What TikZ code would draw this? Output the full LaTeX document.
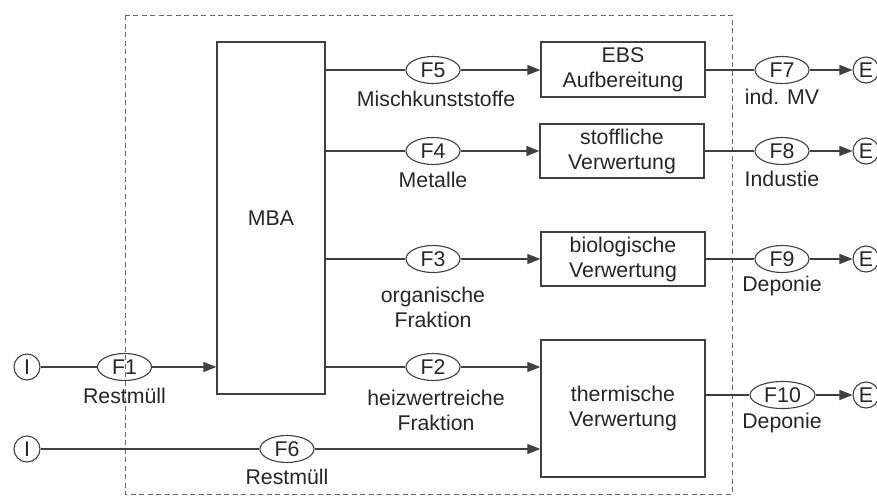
\documentclass[tikz,border=0pt]{standalone}
\usepackage{fontspec}
\setmainfont{Liberation Sans}
\usetikzlibrary{shapes.geometric,arrows.meta}
\begin{document}
\begin{tikzpicture}[x=1pt,y=-1pt,
  every node/.style={font=\fontsize{21.3}{25}\selectfont, text=black!85},
  ln/.style={draw=black!75, line width=1.3pt},
  arr/.style={ln, -{Triangle[length=13pt,width=10pt]}},
  flow/.style={ellipse, draw=black!75, line width=1.1pt, minimum width=54pt, minimum height=27pt, inner sep=0pt},
  proc/.style={draw=black!75, line width=1.3pt, align=center, inner sep=0pt},
  term/.style={circle, draw=black!75, line width=1.1pt, minimum size=26pt, inner sep=0pt},
  lab/.style={align=center, inner sep=0pt}]
\useasboundingbox (0,0) rectangle (877,498);
% system boundary
\draw[black!60, line width=1pt, dash pattern=on 5pt off 3.5pt] (125,15) rectangle (732,494);
% process boxes
\node[proc, minimum width=108pt, minimum height=352pt] (mba) at (271,218) {MBA};
\node[proc, minimum width=164pt, minimum height=55pt] (ebs) at (623,69.5) {EBS\\Aufbereitung};
\node[proc, minimum width=164pt, minimum height=54pt] (sto) at (622,151) {stoffliche\\Verwertung};
\node[proc, minimum width=164pt, minimum height=54pt] (bio) at (623,259) {biologische\\Verwertung};
\node[proc, minimum width=164pt, minimum height=137pt] (the) at (623,408.5) {thermische\\Verwertung};
% flow ellipses
\node[flow] (f5) at (433,70) {F5};
\node[flow] (f4) at (433,151) {F4};
\node[flow] (f3) at (433,259) {F3};
\node[flow] (f2) at (433,367) {F2};
\node[flow] (f1) at (124.5,367) {F1};
\node[flow] (f6) at (287,449) {F6};
\node[flow] (f7) at (782,70) {F7};
\node[flow] (f8) at (782,151) {F8};
\node[flow] (f9) at (782,259) {F9};
\node[flow, minimum width=65pt] (f10) at (782.5,395) {F10};
% terminals
\node[term] (i1) at (27,367) {I};
\node[term] (i2) at (27,449) {I};
\node[term] (e1) at (866,70) {E};
\node[term] (e2) at (866,151) {E};
\node[term] (e3) at (866,259) {E};
\node[term] (e4) at (866,395) {E};
% labels
\node[lab] (l5) at (436,99) {Mischkunststoffe};
\node[lab] (l4) at (433,180) {Metalle};
\node[lab] (l3) at (433,307.5) {organische\\Fraktion};
\node[lab] (l2) at (436,410) {heizwertreiche\\Fraktion};
\node[lab] (l1) at (124.5,396) {Restmüll};
\node[lab] (l6) at (287,477) {Restmüll};
\node[lab] (l7) at (782,97) {ind. MV};
\node[lab] (l8) at (782,179) {Industie};
\node[lab] (l9) at (782,286) {Deponie};
\node[lab] (l10) at (782,423) {Deponie};
% connectors
\draw[ln] (i1) -- (f1);
\draw[arr] (f1) -- (f1 -| mba.west);
\draw[ln] (i2) -- (f6);
\draw[arr] (f6) -- (f6 -| the.west);
\draw[ln] (f5 -| mba.east) -- (f5);
\draw[arr] (f5) -- (f5 -| ebs.west);
\draw[ln] (f4 -| mba.east) -- (f4);
\draw[arr] (f4) -- (f4 -| sto.west);
\draw[ln] (f3 -| mba.east) -- (f3);
\draw[arr] (f3) -- (f3 -| bio.west);
\draw[ln] (f2 -| mba.east) -- (f2);
\draw[arr] (f2) -- (f2 -| the.west);
\draw[ln] (f7 -| ebs.east) -- (f7);
\draw[arr] (f7) -- (e1);
\draw[ln] (f8 -| sto.east) -- (f8);
\draw[arr] (f8) -- (e2);
\draw[ln] (f9 -| bio.east) -- (f9);
\draw[arr] (f9) -- (e3);
\draw[ln] (f10 -| the.east) -- (f10);
\draw[arr] (f10) -- (e4);
\end{tikzpicture}
\end{document}
